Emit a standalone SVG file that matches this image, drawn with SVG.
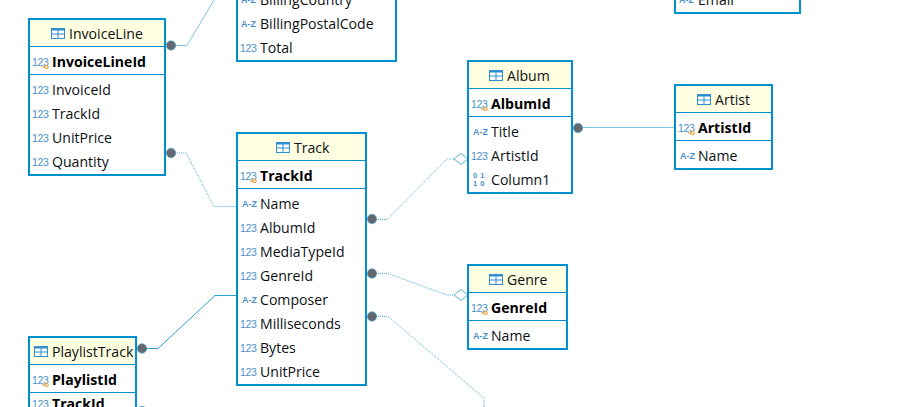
<svg xmlns="http://www.w3.org/2000/svg" width="923" height="407" viewBox="0 0 923 407">
<style>
text{font-family:"Open Sans","Noto Sans","Liberation Sans",sans-serif;font-size:14.1px;fill:#0c1014}
.b{font-weight:700;fill:#000}
.box{fill:#fff;stroke:#0090d0;stroke-width:2}
.hd{fill:#ffffe1}
.ln{stroke:#0090d0;stroke-width:1;fill:none}
.i{font-family:"Liberation Sans",sans-serif;font-size:10.5px;letter-spacing:-.3px;fill:#4a90c8}
.az{font-family:"Liberation Sans",sans-serif;font-size:9px;font-weight:700;fill:#4a90c8}
.bn{font-family:"Liberation Sans",sans-serif;font-size:7.5px;font-weight:700;letter-spacing:3px;fill:#4a90c8}
.c{fill:none;stroke:#7cc6e8;stroke-width:1}
.d{stroke-dasharray:1 1;stroke:#4fb0de}
.s{stroke:#2a9fd6}
.dot{fill:#64686c;stroke:#4aa8d8;stroke-width:.7}
.dia{fill:#fff;stroke:#58b0dc;stroke-width:1}
</style>
<defs>
<g id="tbl"><rect x="0.5" y="0.5" width="13" height="10" fill="#fff" stroke="#2f8fd0"/><path d="M0.5 0.5h13v2h-13z" fill="#2f8fd0"/><path d="M0.5 6h13M7 0.5v10" stroke="#2f8fd0" fill="none"/></g>
<g id="key"><path d="M0 2.5h3" stroke="#f08a10" fill="none"/><circle cx="4.5" cy="2.5" r="1.7" fill="#fff" stroke="#f08a10"/></g>
<path id="dm" d="M-7 0L0 -5.5L7 0L0 5.5Z"/>
</defs>

<g id="connectors">
<path class="c" d="M171 45.5H187L214 0"/>
<path class="c d" d="M171 153H186L214 206.5H237"/>
<path class="c d" d="M372 219.5H387L447 159H454"/>
<path class="c" d="M578 127.5H674"/>
<path class="c d" d="M372 273.5H388L447 295H454"/>
<path class="c d" d="M372 316.5H388L484 398V407"/>
<path class="c s" d="M142 348.5H158L215 295.5H237"/>
<circle class="dot" cx="171" cy="45.5" r="4.7"/>
<circle class="dot" cx="171" cy="153" r="4.7"/>
<circle class="dot" cx="372" cy="219" r="4.7"/>
<circle class="dot" cx="578" cy="128" r="4.7"/>
<circle class="dot" cx="372" cy="273.5" r="4.7"/>
<circle class="dot" cx="372" cy="316.5" r="4.7"/>
<circle class="dot" cx="142" cy="348.5" r="4.7"/>
<circle class="dot" cx="142" cy="411" r="4.7"/>
<use href="#dm" class="dia" x="461" y="159"/>
<use href="#dm" class="dia" x="461" y="295"/>
</g>

<g id="Invoice">
<rect class="box" x="237" y="-60" width="159" height="121"/>
<text class="az" x="241" y="3">A-Z</text><text x="260" y="5">BillingCountry</text>
<text class="az" x="241" y="27">A-Z</text><text x="260" y="29">BillingPostalCode</text>
<text class="i" x="240" y="51.5">123</text><text x="260" y="53">Total</text>
</g>

<g id="Customer">
<rect class="box" x="675" y="-60" width="125" height="73"/>
<text class="az" x="679" y="3">A-Z</text><text x="698" y="5">Email</text>
</g>

<g id="InvoiceLine">
<rect class="box" x="29" y="19" width="136" height="156"/>
<rect class="hd" x="30" y="20" width="134" height="26"/>
<path class="ln" d="M30 46.5H164M30 74.5H164"/>
<use href="#tbl" x="51" y="28"/><text x="69" y="39">InvoiceLine</text>
<text class="i" x="32" y="65.5">123</text><use href="#key" x="42" y="64.5"/><text class="b" x="52" y="67">InvoiceLineId</text>
<text class="i" x="32" y="93.5">123</text><text x="52" y="95">InvoiceId</text>
<text class="i" x="32" y="117.5">123</text><text x="52" y="119">TrackId</text>
<text class="i" x="32" y="141.5">123</text><text x="52" y="143">UnitPrice</text>
<text class="i" x="32" y="165.5">123</text><text x="52" y="167">Quantity</text>
</g>

<g id="Track">
<rect class="box" x="237" y="133" width="129" height="252"/>
<rect class="hd" x="238" y="134" width="127" height="26"/>
<path class="ln" d="M238 160.5H365M238 188.5H365"/>
<use href="#tbl" x="276" y="142"/><text x="294" y="153">Track</text>
<text class="i" x="240" y="179.5">123</text><use href="#key" x="250" y="178.5"/><text class="b" x="260" y="181">TrackId</text>
<text class="az" x="242" y="207">A-Z</text><text x="260" y="209">Name</text>
<text class="i" x="240" y="231.5">123</text><text x="260" y="233">AlbumId</text>
<text class="i" x="240" y="255.5">123</text><text x="260" y="257">MediaTypeId</text>
<text class="i" x="240" y="279.5">123</text><text x="260" y="281">GenreId</text>
<text class="az" x="242" y="303">A-Z</text><text x="260" y="305">Composer</text>
<text class="i" x="240" y="327.5">123</text><text x="260" y="329">Milliseconds</text>
<text class="i" x="240" y="351.5">123</text><text x="260" y="353">Bytes</text>
<text class="i" x="240" y="375.5">123</text><text x="260" y="377">UnitPrice</text>
</g>

<g id="Album">
<rect class="box" x="468" y="61" width="104" height="132"/>
<rect class="hd" x="469" y="62" width="102" height="26"/>
<path class="ln" d="M469 88.5H571M469 116.5H571"/>
<use href="#tbl" x="489" y="70"/><text x="507" y="81">Album</text>
<text class="i" x="471" y="107.5">123</text><use href="#key" x="481" y="106.5"/><text class="b" x="491" y="109">AlbumId</text>
<text class="az" x="473" y="135">A-Z</text><text x="491" y="137">Title</text>
<text class="i" x="471" y="159.5">123</text><text x="491" y="161">ArtistId</text>
<text class="bn" x="473" y="178">01</text><text class="bn" x="473" y="186">10</text><text x="491" y="185">Column1</text>
</g>

<g id="Artist">
<rect class="box" x="675" y="85" width="97" height="84"/>
<rect class="hd" x="676" y="86" width="95" height="26"/>
<path class="ln" d="M676 112.5H771M676 140.5H771"/>
<use href="#tbl" x="697" y="94"/><text x="715" y="105">Artist</text>
<text class="i" x="678" y="131.5">123</text><use href="#key" x="688" y="130.5"/><text class="b" x="698" y="133">ArtistId</text>
<text class="az" x="680" y="159">A-Z</text><text x="698" y="161">Name</text>
</g>

<g id="Genre">
<rect class="box" x="468" y="265" width="99" height="84"/>
<rect class="hd" x="469" y="266" width="97" height="26"/>
<path class="ln" d="M469 292.5H566M469 320.5H566"/>
<use href="#tbl" x="489" y="274"/><text x="507" y="285">Genre</text>
<text class="i" x="471" y="311.5">123</text><use href="#key" x="481" y="310.5"/><text class="b" x="491" y="313">GenreId</text>
<text class="az" x="473" y="339">A-Z</text><text x="491" y="341">Name</text>
</g>

<g id="PlaylistTrack">
<rect class="box" x="29" y="337" width="107" height="100"/>
<rect class="hd" x="30" y="338" width="105" height="26"/>
<path class="ln" d="M30 364.5H135M30 392.5H135"/>
<use href="#tbl" x="34" y="346"/><text x="52" y="357">PlaylistTrack</text>
<text class="i" x="32" y="383.5">123</text><use href="#key" x="42" y="382.5"/><text class="b" x="52" y="385">PlaylistId</text>
<text class="i" x="32" y="407.5">123</text><use href="#key" x="42" y="406.5"/><text class="b" x="52" y="409">TrackId</text>
</g>
</svg>
